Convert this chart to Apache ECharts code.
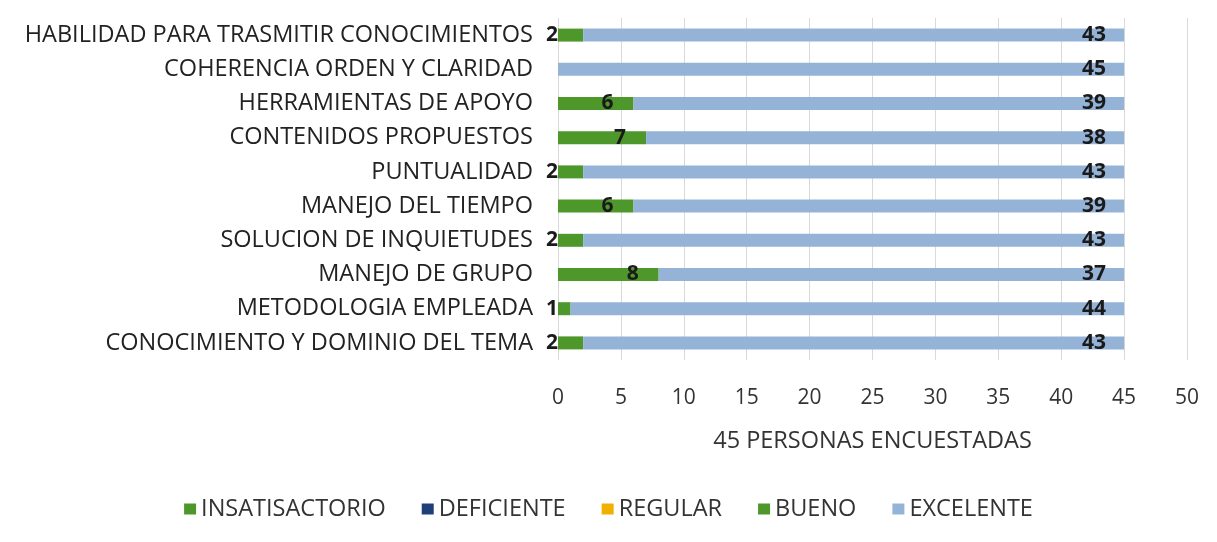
<!DOCTYPE html>
<html>
<head>
<meta charset="utf-8">
<script src="https://cdn.jsdelivr.net/npm/echarts@6/dist/echarts.min.js"></script>
<style>
html,body{margin:0;padding:0;background:#fff;}
#chart{width:1217px;height:542px;}
</style>
</head>
<body>
<div id="chart"></div>
<script>
// categorias de abajo hacia arriba
var categorias = [
    'CONOCIMIENTO Y DOMINIO DEL TEMA',
    'METODOLOGIA EMPLEADA',
    'MANEJO DE GRUPO',
    'SOLUCION DE INQUIETUDES',
    'MANEJO DEL TIEMPO',
    'PUNTUALIDAD',
    'CONTENIDOS PROPUESTOS',
    'HERRAMIENTAS DE APOYO',
    'COHERENCIA ORDEN Y CLARIDAD',
    'HABILIDAD PARA TRASMITIR CONOCIMIENTOS'
];
var insatisfactorio = [0, 0, 0, 0, 0, 0, 0, 0, 0, 0];
var deficiente = [0, 0, 0, 0, 0, 0, 0, 0, 0, 0];
var regular = [0, 0, 0, 0, 0, 0, 0, 0, 0, 0];
var bueno = [2, 1, 8, 2, 6, 2, 7, 6, 0, 2];
var excelente = [43, 44, 37, 43, 39, 43, 38, 39, 45, 43];
var ejeX = { min: 0, max: 50, interval: 5 };

var fuente = '"Open Sans", "Noto Sans", sans-serif';

function serie(nombre, datos, color) {
    return {
        name: nombre,
        type: 'bar',
        stack: 'total',
        barWidth: 13,
        itemStyle: { color: color },
        data: datos
    };
}

var sBueno = serie('BUENO', bueno.map(function (v) {
    // etiquetas de valores pequenos quedan a la izquierda de la barra
    return {
        value: v,
        label: v <= 2 ? { position: 'left', distance: 0 } : { position: 'insideRight', distance: 20 }
    };
}), '#4e972b');
sBueno.label = {
    show: true,
    color: '#1a1a1a',
    fontFamily: fuente,
    fontSize: 21,
    fontWeight: 'bold',
    formatter: function (p) { return p.value ? p.value : ''; }
};

var sExcelente = serie('EXCELENTE', excelente, '#95b3d7');
sExcelente.label = {
    show: true,
    position: 'insideRight',
    distance: 18,
    color: '#1a1a1a',
    fontFamily: fuente,
    fontSize: 21,
    fontWeight: 'bold'
};

var option = {
    animation: false,
    textStyle: { fontFamily: fuente },
    grid: { left: 558, right: 30, top: 18, bottom: 182 },
    legend: {
        bottom: 16,
        left: 'center',
        itemWidth: 12,
        itemHeight: 11,
        itemGap: 36,
        icon: 'rect',
        textStyle: { fontSize: 23.5, color: '#333', fontFamily: fuente },
        data: ['INSATISACTORIO', 'DEFICIENTE', 'REGULAR', 'BUENO', 'EXCELENTE']
    },
    xAxis: {
        type: 'value',
        min: ejeX.min,
        max: ejeX.max,
        interval: ejeX.interval,
        name: '45 PERSONAS ENCUESTADAS',
        nameLocation: 'middle',
        nameGap: 69,
        nameTextStyle: { fontSize: 23.5, color: '#333', fontFamily: fuente },
        axisLine: { show: false },
        axisTick: { show: false },
        axisLabel: { fontSize: 21, color: '#333', margin: 28, fontFamily: fuente },
        splitLine: { show: true, lineStyle: { color: '#d9d9d9', width: 1 } }
    },
    yAxis: {
        type: 'category',
        data: categorias,
        axisLine: { show: false },
        axisTick: { show: false },
        axisLabel: { fontSize: 23.5, color: '#222', margin: 25, fontFamily: fuente },
        splitLine: { show: false }
    },
    series: [
        serie('INSATISACTORIO', insatisfactorio, '#4e972b'),
        serie('DEFICIENTE', deficiente, '#1f3e7a'),
        serie('REGULAR', regular, '#f0b000'),
        sBueno,
        sExcelente
    ]
};

var myChart = echarts.init(document.getElementById('chart'));
myChart.setOption(option, true);
</script>
</body>
</html>
